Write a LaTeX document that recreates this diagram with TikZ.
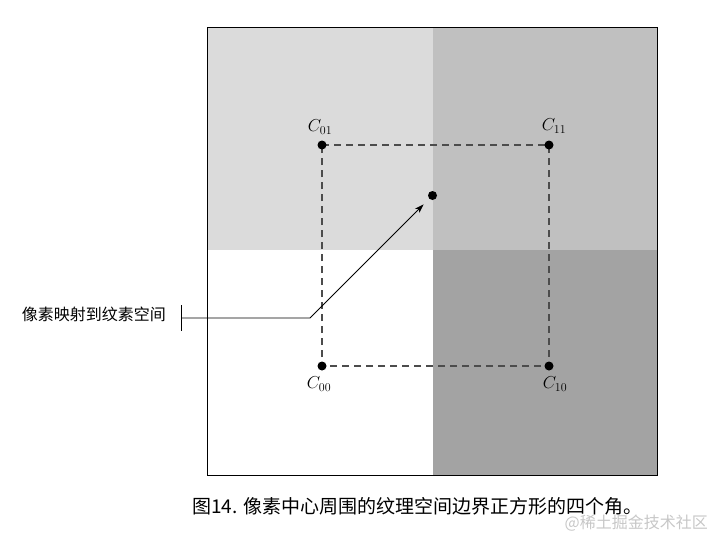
\documentclass[tikz,border=0pt]{standalone}
\usepackage{fontspec}
\usepackage{tikz}
\usetikzlibrary{arrows.meta,calc}
\newfontfamily\cjk{Noto Sans CJK SC}
\definecolor{quadtl}{RGB}{219,219,219}
\definecolor{quadtr}{RGB}{192,192,192}
\definecolor{quadbr}{RGB}{163,163,163}

\begin{document}
\begin{tikzpicture}[
  x=1pt, y=-1pt,
  dot/.style={circle, fill=black, inner sep=0pt, minimum size=9pt},
  clab/.style={font=\fontsize{18}{20}\selectfont, inner sep=0pt},
  cjklab/.style={font=\cjk\fontsize{16}{18}\selectfont, inner sep=0pt},
  bound/.style={dash pattern=on 7pt off 5pt, line width=1.3pt, black!70},
  arr/.style={-{Stealth[length=9pt,width=6pt]}, line width=0.8pt},
]
\useasboundingbox (0,0) rectangle (713,544);
% ---- four texels ----
\fill[quadtl] (207,27) rectangle (433,250);
\fill[quadtr] (433,27) rectangle (657,250);
\fill[quadbr] (433,250) rectangle (657,475);
\draw[line width=1pt] (207,27) rectangle (657,475);
% ---- corners of the bounding square ----
\coordinate (p01) at (322,145);
\coordinate (p11) at (549,145);
\coordinate (p00) at (322,366);
\coordinate (p10) at (549,366);
\draw[bound] (p01) -- (p11) -- (p10) -- (p00) -- cycle;
\node[dot] (c01) at (p01) {};
\node[dot] (c11) at (p11) {};
\node[dot] (c00) at (p00) {};
\node[dot] (c10) at (p10) {};
\node[clab] (l01) at (320,127) {$C_{01}$};
\node[clab] (l11) at (554,126) {$C_{11}$};
\node[clab] (l00) at (319,384) {$C_{00}$};
\node[clab] (l10) at (555,384) {$C_{10}$};
% ---- pixel centre and its label ----
\node[dot] (ctr) at (432.5,195.5) {};
\node[cjklab, anchor=east] (maplab) at (166,314) {像素映射到纹素空间};
\coordinate (tick) at (181.5,318);
\coordinate (bend) at (310,318);
\draw[line width=0.8pt] ($(tick)+(0,-13)$) -- ($(tick)+(0,13)$);
\draw[arr, shorten >=8pt] (tick) -- (bend) -- (ctr);
% caption
\node[font=\cjk\fontsize{19}{22}\selectfont, anchor=west, inner sep=0pt] (cap) at (192,506) {图14. 像素中心周围的纹理空间边界正方形的四个角。};
\node[cjklab, text=black!22, anchor=east] (mark) at (708,523) {@稀土掘金技术社区};
\end{tikzpicture}
\end{document}
